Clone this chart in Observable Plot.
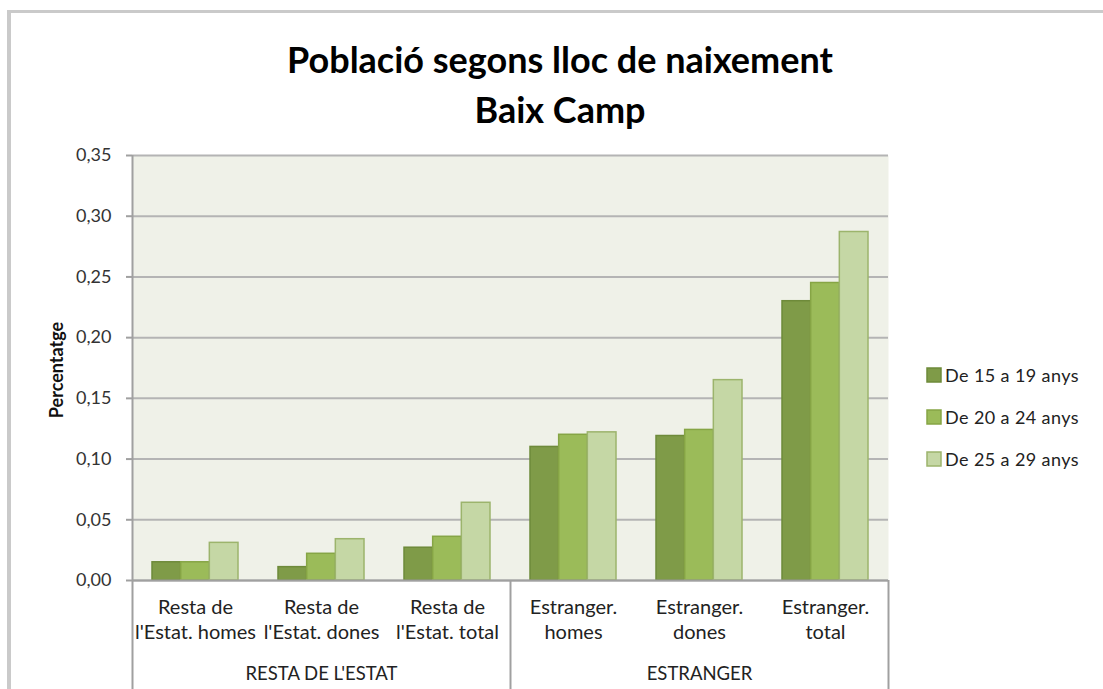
<!DOCTYPE html>
<html><head><meta charset="utf-8">
<script src="https://cdn.jsdelivr.net/npm/d3@7"></script>
<script src="https://cdn.jsdelivr.net/npm/@observablehq/plot@0.6"></script>
<style>
body{margin:0;width:1103px;height:689px;overflow:hidden;background:#fff;font-family:Lato,sans-serif;position:relative}
#border{position:absolute;left:7px;top:10px;width:1200px;height:800px;border-left:4px solid #cacaca;border-top:3px solid #cacaca}
#title{position:absolute;left:0;top:34px;width:1103px;padding-left:17px;box-sizing:border-box;text-align:center;font-weight:bold;font-size:36px;line-height:50px;color:#000}
#chart{position:absolute;left:0;top:140px}
#legend{position:absolute;left:927px;top:365px}
#legend *{font-family:Lato,sans-serif !important;font-size:18px !important;letter-spacing:0.4px;color:#222 !important}
#legend [class$="-swatch"]{margin-bottom:22px !important;padding:0 !important;line-height:20px !important}
#legend svg{margin-right:4px !important}
</style></head>
<body>
<div id="border"></div>
<div id="title">Població segons lloc de naixement<br>Baix Camp</div>
<div id="chart"></div>
<div id="legend"></div>
<script>
const categories = ["Resta de\nl'Estat. homes", "Resta de\nl'Estat. dones", "Resta de\nl'Estat. total", "Estranger.\nhomes", "Estranger.\ndones", "Estranger.\ntotal"];
const groups = ["RESTA DE L'ESTAT", "ESTRANGER"];
const groupCenters = [categories[1], categories[4]];
const series = ["De 15 a 19 anys", "De 20 a 24 anys", "De 25 a 29 anys"];
const v15_19 = [0.015, 0.011, 0.027, 0.110, 0.119, 0.230];
const v20_24 = [0.015, 0.022, 0.036, 0.120, 0.124, 0.245];
const v25_29 = [0.031, 0.034, 0.064, 0.122, 0.165, 0.287];
const yTicks = [0, 0.05, 0.10, 0.15, 0.20, 0.25, 0.30, 0.35];
const fills = ["#7f9b48", "#9bbb59", "#c5d7a5"];
const strokes = ["#6e8a3a", "#86a545", "#9cb46c"];

const seriesValues = [v15_19, v20_24, v25_29];
const data = [];
series.forEach((s, j) => categories.forEach((c, i) => data.push({cat: c, series: s, value: seriesValues[j][i]})));

const step = 126, gap = 20, barW = (step - 2 * gap) / 3;
const fmt = d => d.toFixed(2).replace(".", ",");

const plot = Plot.plot({
  width: 1103, height: 549,
  marginTop: 15, marginBottom: 109, marginLeft: 132, marginRight: 215,
  style: {fontFamily: "Lato, sans-serif", background: "transparent"},
  x: {domain: categories, padding: 0, axis: null},
  y: {domain: [0, 0.35], axis: null},
  color: {domain: series, range: fills},
  marks: [
    Plot.frame({fill: "#eff1e8", stroke: null}),
    Plot.gridY(yTicks, {stroke: "#b4b4b4", strokeOpacity: 1, strokeWidth: 2}),
    ...series.map((s, j) => Plot.barY(data.filter(d => d.series === s), {
      x: "cat", y: "value", fill: "series", stroke: strokes[j], strokeWidth: 1.5,
      insetLeft: gap + barW * j, insetRight: step - gap - barW * (j + 1)
    })),
    Plot.axisY(yTicks, {tickFormat: fmt, tickSize: 6, tickPadding: 15, stroke: "#a0a0a0", strokeWidth: 2, fill: "#333", fontSize: 18, label: null}),
    Plot.text(["Percentatge"], {frameAnchor: "left", textAnchor: "middle", dx: -75, dy: 2, rotate: -90, fontSize: 18, fontWeight: "bold", fill: "#111"}),
    Plot.axisX({tickSize: 0, tickPadding: 16, lineHeight: 1.25, fontSize: 20, fill: "#222", label: null}),
    Plot.text(groups, {x: (d, i) => groupCenters[i], text: d => d, frameAnchor: "bottom", dy: 99, fontSize: 18.5, fill: "#222"}),
    Plot.ruleY([0], {stroke: "#a0a0a0", strokeWidth: 2}),
    Plot.ruleX([categories[0]], {x: d => d, dx: -step / 2, insetBottom: -109, stroke: "#a0a0a0", strokeWidth: 2}),
    Plot.ruleX([categories[3]], {x: d => d, dx: -step / 2, y1: 0, y2: 0, insetBottom: -109, stroke: "#a0a0a0", strokeWidth: 2}),
    Plot.ruleX([categories[5]], {x: d => d, dx: step / 2, y1: 0, y2: 0, insetBottom: -109, stroke: "#a0a0a0", strokeWidth: 2})
  ]
});
document.getElementById("chart").append(plot);
const leg = plot.legend("color", {legend: "swatches", columns: 1, swatchSize: 14});
document.getElementById("legend").append(leg);
document.querySelectorAll("#legend svg").forEach((s, j) => {
  s.querySelectorAll("rect").forEach(r => { r.setAttribute("stroke", strokes[j]); r.setAttribute("stroke-width", 1.5); });
});
</script>
</body></html>
